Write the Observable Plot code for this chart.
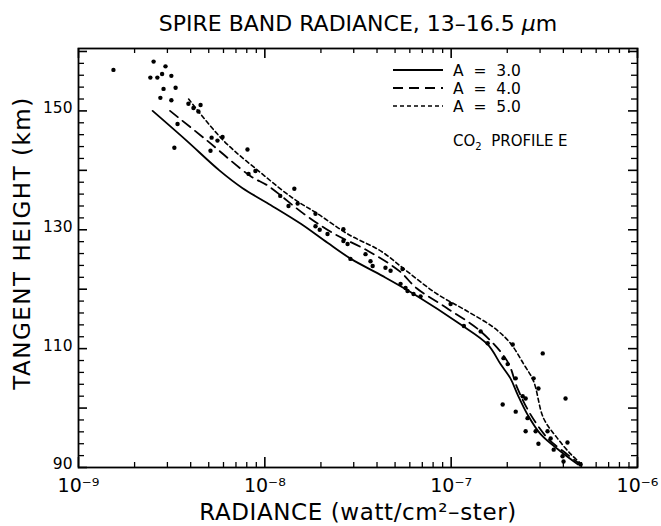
<!DOCTYPE html>
<html><head><meta charset="utf-8">
<script src="https://cdn.jsdelivr.net/npm/d3@7"></script>
<script src="https://cdn.jsdelivr.net/npm/@observablehq/plot@0.6"></script>
<style>
body{margin:0;background:#fff;}
#chart{width:661px;height:526px;}
#chart svg{font-family:"DejaVu Sans",sans-serif;}
g[aria-label="x-axis tick label"]{font-size:19px;}
g[aria-label="y-axis tick label"]{font-size:15.5px;}
g[aria-label="x-axis label"]{font-size:23px;letter-spacing:0.6px;}
</style></head><body><div id="chart"></div>
<script>
const chartTitle = "SPIRE BAND RADIANCE, 13\u201316.5 \u03bcm";
const xLabel = "RADIANCE (watt/cm\u00b2\u2013ster)";
const yLabel = "TANGENT HEIGHT (km)";
const seriesNames = ["A = 3.0", "A = 4.0", "A = 5.0"];
const profileNote = "PROFILE E";

const a3Radiance = [2.5e-9, 3.8e-9, 5.7e-9, 7.6e-9, 1.03e-8, 1.56e-8, 2.17e-8, 2.9e-8, 4.3e-8, 6.3e-8, 1.12e-7, 1.57e-7, 1.84e-7, 2.08e-7, 2.27e-7, 2.57e-7, 3.02e-7, 3.87e-7, 4.8e-7];
const a3Height   = [150, 145, 140, 137, 134.5, 131, 127.8, 125.1, 122.2, 119.2, 114.1, 110.7, 107.4, 105, 102.3, 98.9, 95.6, 92.7, 90.5];

const a4Radiance = [3.1e-9, 4.9e-9, 8.4e-9, 1.04e-8, 1.6e-8, 2.3e-8, 3.6e-8, 5.3e-8, 6.5e-8, 9.5e-8, 1.44e-7, 2.0e-7, 2.27e-7, 2.67e-7, 3.3e-7, 4.2e-7, 4.9e-7];
const a4Height   = [150, 145, 139, 137.4, 132.8, 129.5, 126.4, 123, 120.2, 116.8, 112.9, 107.9, 103.3, 98.9, 94.9, 92.2, 90.6];

const a5Radiance = [3.9e-9, 6.0e-9, 9.5e-9, 1.43e-8, 1.92e-8, 2.78e-8, 4.2e-8, 5.8e-8, 8.4e-8, 1.22e-7, 1.7e-7, 2.08e-7, 2.45e-7, 2.77e-7, 3.13e-7, 3.72e-7, 4.4e-7, 5.0e-7];
const a5Height   = [152, 145, 139.6, 135.2, 132.7, 129.3, 126.4, 123, 119.2, 116.3, 113.5, 110.9, 107.4, 104.5, 98.3, 94.9, 92.2, 90.6];

const obsRadiance = [1.54e-9, 2.53e-9, 2.43e-9, 2.65e-9, 2.93e-9, 2.81e-9, 3.15e-9, 2.86e-9, 3.32e-9, 2.75e-9, 3.15e-9, 3.40e-9, 3.27e-9,
  3.89e-9, 4.14e-9, 4.40e-9, 4.52e-9, 5.18e-9, 5.57e-9, 5.93e-9, 5.11e-9, 8.07e-9, 8.18e-9, 8.9e-9,
  1.44e-8, 1.21e-8, 1.34e-8, 1.50e-8, 1.87e-8, 1.87e-8, 1.97e-8, 2.64e-8, 2.17e-8, 2.64e-8, 2.78e-8, 2.88e-8,
  3.47e-8, 3.69e-8, 3.79e-8, 4.44e-8, 4.73e-8, 5.48e-8, 5.35e-8, 5.69e-8, 5.83e-8, 6.28e-8, 6.85e-8, 9.93e-8,
  1.17e-7, 1.44e-7, 1.57e-7, 2.14e-7, 3.10e-7, 1.91e-7, 2.01e-7, 2.22e-7, 2.77e-7, 2.94e-7, 2.42e-7, 2.51e-7,
  1.89e-7, 2.22e-7, 4.11e-7, 2.57e-7, 2.84e-7, 2.51e-7, 2.94e-7, 3.29e-7, 3.42e-7, 4.21e-7, 3.96e-7, 3.55e-7, 4.95e-7, 4.01e-7];
const obsHeight = [156.9, 158.3, 155.6, 155.6, 157.5, 156.2, 155.9, 153.7, 153.9, 152.2, 151.8, 147.8, 143.8,
  151.2, 150.5, 149.9, 151.0, 145.5, 145.0, 145.6, 143.3, 143.5, 139.4, 139.9,
  136.9, 135.7, 134.0, 134.4, 132.7, 130.6, 130.0, 130.1, 129.3, 128.1, 127.6, 125.1,
  125.9, 124.7, 123.9, 123.6, 123.1, 123.4, 120.9, 120.2, 119.7, 119.2, 118.8, 117.5,
  113.8, 112.9, 110.9, 110.7, 109.2, 108.4, 107.4, 105.0, 105.0, 103.3, 102.0, 101.6,
  100.6, 99.4, 101.6, 98.3, 96.1, 96.1, 94.0, 96.1, 94.9, 94.2, 91.9, 93.0, 90.5, 91.0];

const xTickValues = [1e-9, 1e-8, 1e-7, 1e-6];
const xTickLabels = ["10\u207b\u2079", "10\u207b\u2078", "10\u207b\u2077", "10\u207b\u2076"];
const yTickValues = [90, 110, 130, 150];

const W = 661, H = 526, mL = 78, mR = 24, mT = 48, mB = 59;
const frameW = W - mL - mR, frameH = H - mT - mB;

const toRows = (rs, hs) => rs.map((r, i) => ({r, h: hs[i]}));
const a3 = toRows(a3Radiance, a3Height);
const a4 = toRows(a4Radiance, a4Height);
const a5 = toRows(a5Radiance, a5Height);
const obs = toRows(obsRadiance, obsHeight);

const minorX = [];
for (let e = -9; e < -6; e++) for (let m = 2; m <= 9; m++) minorX.push(+(m + "e" + e));
const minorY = d3.range(92, 160, 2).filter(v => v % 10 !== 0);
const majorY = d3.range(90, 161, 10);

const dashes = [null, "10,6", "4,3"];

const svg = Plot.plot({
  width: W, height: H,
  marginLeft: mL, marginRight: mR, marginTop: mT, marginBottom: mB,
  x: {type: "log", domain: [1e-9, 1e-6]},
  y: {domain: [90, 160.5]},
  marks: [
    Plot.tickX(minorX, {x: d => d, insetTop: frameH - 5, strokeWidth: 1.3}),
    Plot.tickX(minorX, {x: d => d, insetBottom: frameH - 5, strokeWidth: 1.3}),
    Plot.tickX(xTickValues, {x: d => d, insetTop: frameH - 10, strokeWidth: 1.6}),
    Plot.tickX(xTickValues, {x: d => d, insetBottom: frameH - 10, strokeWidth: 1.6}),
    Plot.tickY(minorY, {y: d => d, insetRight: frameW - 6, strokeWidth: 1.3}),
    Plot.tickY(minorY, {y: d => d, insetLeft: frameW - 6, strokeWidth: 1.3}),
    Plot.tickY(majorY, {y: d => d, insetRight: frameW - 9, strokeWidth: 1.6}),
    Plot.tickY(majorY, {y: d => d, insetLeft: frameW - 9, strokeWidth: 1.6}),
    Plot.frame({stroke: "black", strokeWidth: 1.8}),
    Plot.line(a3, {x: "r", y: "h", stroke: "black", strokeWidth: 1.8, curve: "catmull-rom"}),
    Plot.line(a4, {x: "r", y: "h", stroke: "black", strokeWidth: 1.8, strokeDasharray: dashes[1], curve: "catmull-rom"}),
    Plot.line(a5, {x: "r", y: "h", stroke: "black", strokeWidth: 1.6, strokeDasharray: dashes[2], curve: "catmull-rom"}),
    Plot.dot(obs, {x: "r", y: "h", r: 2.2, fill: "black", stroke: null}),
    Plot.axisX({ticks: xTickValues, tickFormat: d => xTickLabels[xTickValues.indexOf(d)], tickSize: 0, tickPadding: 11,
      label: xLabel, labelAnchor: "center", labelOffset: 52, labelArrow: "none"}),
    Plot.axisY({ticks: yTickValues, tickSize: 0, tickPadding: 6, dy: -3, label: null}),
    Plot.text([yLabel], {frameAnchor: "left", textAnchor: "middle", rotate: -90, dx: -56, dy: -15, fontSize: 23, text: d => d}),
    Plot.text([chartTitle], {frameAnchor: "top", dy: -33, fontSize: 22, text: d => d})
  ]
});

const root = d3.select(svg);

// italic mu in the title
root.selectAll("text").filter(function() { return this.textContent === chartTitle; }).each(function() {
  const t = d3.select(this);
  const [head, tail] = chartTitle.split("\u03bc");
  t.text(null);
  t.append("tspan").text(head);
  t.append("tspan").attr("font-style", "italic").text("\u03bc");
  t.append("tspan").text(tail);
});

// letter spacing for the rotated y label
root.selectAll("text").filter(function() { return this.textContent === yLabel; })
  .style("letter-spacing", "1.5px");

// legend (inside the frame, top right)
const g = root.append("g").attr("class", "legend").attr("text-anchor", "start");
const lx0 = 393, lx1 = 443, tx = 453, ly = [70, 88, 106];
seriesNames.forEach((name, i) => {
  g.append("line").attr("x1", lx0).attr("x2", lx1).attr("y1", ly[i]).attr("y2", ly[i])
    .attr("stroke", "black").attr("stroke-width", i === 2 ? 1.6 : 1.8)
    .attr("stroke-dasharray", dashes[i]);
  g.append("text").attr("x", tx).attr("y", ly[i]).attr("dy", "0.36em")
    .attr("font-size", 15.5).style("white-space", "pre").text(name.replace(/ = /, "  =  "));
});
const note = g.append("text").attr("x", tx).attr("y", 141).attr("dy", "0.36em").attr("font-size", 15).style("white-space", "pre");
note.append("tspan").text("CO");
note.append("tspan").attr("font-size", 10).attr("dy", 4).text("2");
note.append("tspan").attr("dy", -4).text("  " + profileNote);

document.getElementById("chart").appendChild(svg);
</script></body></html>
